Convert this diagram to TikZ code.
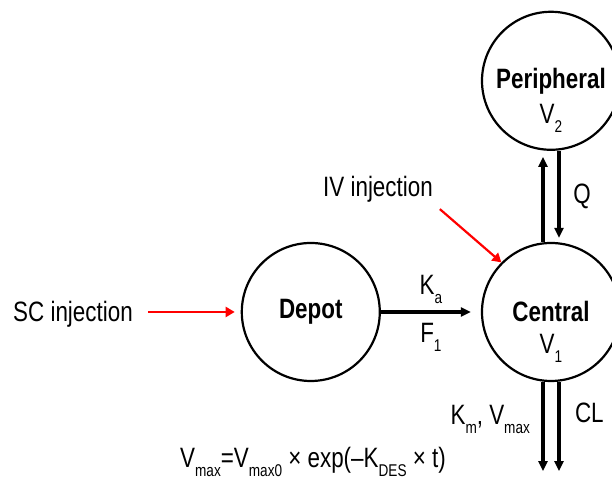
\documentclass[tikz,border=0pt]{standalone}
\usepackage{fontspec}
\setmainfont{Liberation Sans}[FakeStretch=0.8]
\usetikzlibrary{arrows.meta,positioning}
\newcommand{\lowsub}[1]{\raisebox{-4.5pt}{\fontsize{8.5}{9}\selectfont #1}}

\begin{document}
\begin{tikzpicture}[
  x=0.5pt, y=0.5pt,
  font=\fontsize{14}{16}\selectfont,
  comp/.style={circle, draw, line width=1.1pt, minimum size=69pt, inner sep=0pt, font=\fontsize{14}{16}\selectfont\bfseries},
  arr/.style={-{Triangle[length=5pt, width=4.5pt]}, line width=1.6pt},
  inj/.style={-{Triangle[length=4.5pt, width=5pt]}, line width=1.1pt, red},
]
  \useasboundingbox (0,0) rectangle (612,480);
  % compartments
  \node[comp] (central) at (551,168) {Central};
  \node[comp, left=50pt of central] (depot) {Depot};
  \node[comp, above=45.5pt of central] (periph) {Peripheral};
  \node[anchor=base] (v1) at ([yshift=-21pt]central.center) {V\lowsub{1}};
  \node[anchor=base] (v2) at ([yshift=-21.5pt]periph.center) {V\lowsub{2}};

  % absorption
  \draw[arr, shorten >=5pt] (depot) -- coordinate[midway] (mid) (central);
  \node[anchor=base] (ka) at ([yshift=8.5pt]mid) {K\lowsub{a}};
  \node[anchor=base] (f1) at ([yshift=-15.5pt]mid) {F\lowsub{1}};

  % distribution
  \draw[arr, shorten >=3pt] ([xshift=-4pt]central.north) -- ([xshift=-4pt]periph.south);
  \draw[arr, shorten >=2pt] ([xshift=4pt]periph.south) -- node[midway, right=3pt] (q) {Q} ([xshift=4pt]central.north);

  % doses
  \node (sc) at (73,166) {SC injection};
  \node (iv) at (378,291) {IV injection};
  \draw[inj, shorten <=4pt, shorten >=3pt] (depot.west -| sc.east) -- (depot.west);
  \draw[inj] (iv.south east) -- (central.135);

  % elimination
  \path ([xshift=-4pt]central.south) ++(0,-89) coordinate (kmend);
  \path ([xshift=4pt]central.south) ++(0,-89) coordinate (clend);
  \draw[arr] ([xshift=-4pt]central.south) -- (kmend);
  \draw[arr] ([xshift=4pt]central.south) -- (clend);
  \node[anchor=base east] (kmv) at (537,55) {K\lowsub{m}, V\lowsub{max}};
  \node[anchor=base west] (cl) at (568,57) {CL};

  \node[anchor=base] (form) at (313,12) {V\lowsub{max}=V\lowsub{max0} × exp(–K\lowsub{DES} × t)};
\end{tikzpicture}
\end{document}
